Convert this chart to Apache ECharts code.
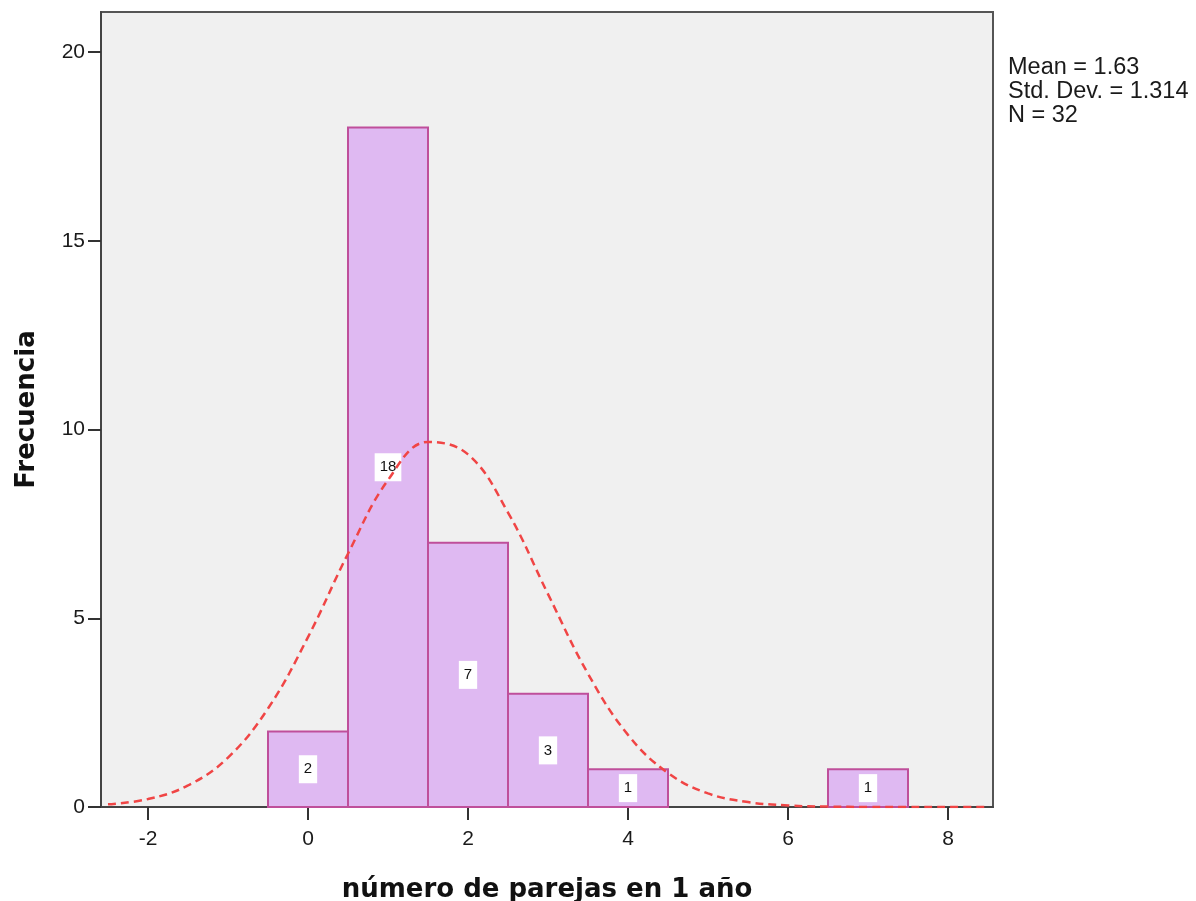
<!DOCTYPE html>
<html>
<head>
<meta charset="utf-8">
<script src="https://cdn.jsdelivr.net/npm/echarts@6/dist/echarts.min.js"></script>
<style>html,body{margin:0;padding:0;background:#fff}#c{width:1196px;height:901px}</style>
</head>
<body>
<div id="c"></div>
<script>
// Histogram bins (centre of bin) and frequencies
const binCenters = [0, 1, 2, 3, 4, 7];
const frequencies = [2, 18, 7, 3, 1, 1];
// Normal curve overlay points
const curveX = [-2.5,-2,-1.5,-1,-0.5,0,0.5,1,1.5,2,2.5,3,3.5,4,4.5,5,5.5,6,6.5,7,7.5,8,8.5];
const curveY = [0.07,0.21,0.57,1.31,2.61,4.50,6.71,8.66,9.67,9.34,7.80,5.64,3.53,1.91,0.90,0.36,0.13,0.04,0.01,0.002,0.0004,0,0];
const xTicks = [-2, 0, 2, 4, 6, 8];
const yTicks = [0, 5, 10, 15, 20];
const statsLines = ['Mean = 1.63', 'Std. Dev. = 1.314', 'N = 32'];
const xTitle = 'número de parejas en 1 año';
const yTitle = 'Frecuencia';

const chart = echarts.init(document.getElementById('c'), null, {renderer: 'canvas'});
const font = '"Liberation Sans", Arial, sans-serif';
const titleFont = '"DejaVu Sans", Verdana, sans-serif';

const option = {
  animation: false,
  backgroundColor: '#ffffff',
  grid: {left: 101, right: 203, top: 12, bottom: 94, containLabel: false, outerBoundsMode: 'none',
         show: true, backgroundColor: '#f0f0f0', borderColor: '#555', borderWidth: 2},
  xAxis: {
    type: 'value', min: -2.5875, max: 8.5625,
    name: xTitle, nameLocation: 'middle', nameGap: 70,
    nameTextStyle: {fontFamily: titleFont, fontSize: 26, fontWeight: 'bold', color: '#111'},
    axisLine: {show: true, onZero: false, lineStyle: {color: '#444', width: 2}},
    axisTick: {show: true, length: 13, lineStyle: {color: '#333', width: 2}, customValues: xTicks},
    axisLabel: {customValues: xTicks, fontFamily: font, fontSize: 21, color: '#1a1a1a', margin: 22},
    splitLine: {show: false}
  },
  yAxis: {
    type: 'value', min: 0, max: 21.06,
    name: yTitle, nameLocation: 'middle', nameGap: 61, nameRotate: 90,
    nameTextStyle: {fontFamily: titleFont, fontSize: 26, fontWeight: 'bold', color: '#111'},
    axisLine: {show: true, onZero: false, lineStyle: {color: '#444', width: 2}},
    axisTick: {show: true, length: 13, lineStyle: {color: '#333', width: 2}, customValues: yTicks},
    axisLabel: {customValues: yTicks, fontFamily: font, fontSize: 21, color: '#1a1a1a', margin: 16},
    splitLine: {show: false}
  },
  graphic: [{
    type: 'text', left: 1008, top: 56,
    style: {text: statsLines.join('\n'), fontFamily: font, fontSize: 23.5, lineHeight: 24, fill: '#1a1a1a'}
  }],
  series: [{
    type: 'custom',
    data: binCenters.map((c, i) => [c, frequencies[i]]),
    renderItem: function (params, api) {
      const c = api.value(0), f = api.value(1);
      const p0 = api.coord([c - 0.5, f]);
      const p1 = api.coord([c + 0.5, 0]);
      const mid = api.coord([c, f / 2]);
      return {
        type: 'group',
        children: [{
          type: 'rect',
          shape: {x: p0[0], y: p0[1], width: p1[0] - p0[0], height: p1[1] - p0[1]},
          style: {fill: '#dfb9f2', stroke: '#bf4f9b', lineWidth: 2}
        }, {
          type: 'text',
          x: mid[0], y: mid[1],
          style: {text: String(f), fontFamily: font, fontSize: 15, fill: '#111', align: 'center', verticalAlign: 'middle',
                  backgroundColor: '#ffffff', padding: [7, 5, 6, 5]}
        }]
      };
    },
    z: 2
  }, {
    type: 'line',
    data: curveX.map((x, i) => [x, curveY[i]]),
    smooth: 0.4, showSymbol: false, symbol: 'none',
    lineStyle: {color: '#f04545', width: 2.5, type: [8, 5]},
    z: 3
  }]
};
chart.setOption(option);
</script>
</body>
</html>
